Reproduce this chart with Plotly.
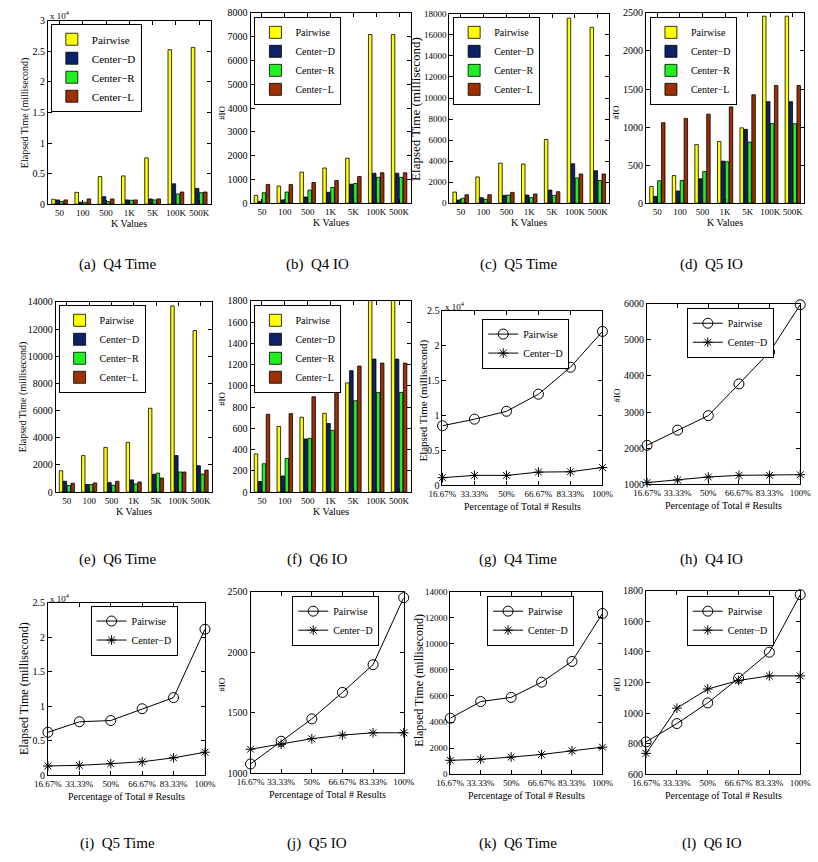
import plotly.graph_objects as go

W, H = 818, 862
FONT = "Liberation Serif"

# ---------------- data ----------------
K_LABELS = ["50", "100", "500", "1K", "5K", "100K", "500K"]
PCT_VALUES = [16.67, 33.33, 50, 66.67, 83.33, 100]
PCT_LABELS = ["16.67%", "33.33%", "50%", "66.67%", "83.33%", "100%"]
BAR_NAMES = ["Pairwise", "Center\u2212D", "Center\u2212R", "Center\u2212L"]
LINE_NAMES = ["Pairwise", "Center\u2212D"]

# (a) Q4 Time
q4_time_pairwise = [806, 1935, 4516, 4624, 7580, 25270, 25645]
q4_time_center_d = [700, 320, 1237, 700, 860, 3333, 2580]
q4_time_center_r = [430, 320, 430, 645, 700, 1667, 1880]
q4_time_center_l = [700, 860, 860, 700, 860, 1990, 1990]
# (b) Q4 IO
q4_io_pairwise = [330, 720, 1310, 1480, 1890, 7090, 7090]
q4_io_center_d = [80, 140, 260, 460, 800, 1260, 1260]
q4_io_center_r = [440, 470, 550, 660, 830, 1090, 1090]
q4_io_center_l = [790, 790, 870, 950, 1120, 1280, 1280]
# (c) Q5 Time
q5_time_pairwise = [1060, 2500, 3810, 3720, 6060, 17590, 16720]
q5_time_center_d = [310, 530, 750, 780, 1250, 3750, 3090]
q5_time_center_r = [470, 375, 780, 530, 750, 2400, 2150]
q5_time_center_l = [810, 810, 1030, 875, 1090, 2780, 2780]
# (d) Q5 IO
q5_io_pairwise = [220, 363, 770, 812, 990, 2457, 2457]
q5_io_center_d = [90, 160, 320, 553, 970, 1334, 1334]
q5_io_center_r = [295, 300, 415, 544, 803, 1045, 1045]
q5_io_center_l = [1058, 1114, 1170, 1265, 1425, 1546, 1546]
# (e) Q6 Time
q6_time_pairwise = [1575, 2690, 3290, 3660, 6170, 13700, 11890]
q6_time_center_d = [800, 560, 700, 900, 1310, 2690, 1940]
q6_time_center_r = [485, 560, 510, 605, 1400, 1480, 1330]
q6_time_center_l = [655, 680, 800, 750, 1040, 1480, 1620]
# (f) Q6 IO (Pairwise at 100K/500K exceeds the axis and is clipped)
q6_io_pairwise = [360, 618, 705, 742, 1028, 2450, 2450]
q6_io_center_d = [99, 152, 500, 646, 1143, 1252, 1252]
q6_io_center_r = [267, 317, 506, 581, 860, 938, 938]
q6_io_center_l = [733, 739, 897, 960, 1186, 1214, 1214]

# (g) Q4 Time vs percentage
g_pairwise = [8520, 9460, 10590, 13040, 16900, 22030]
g_center_d = [1080, 1410, 1410, 1880, 1930, 2540]
# (h) Q4 IO
h_pairwise = [2079, 2500, 2901, 3779, 4665, 5973]
h_center_d = [1046, 1119, 1201, 1247, 1247, 1265]
# (i) Q5 Time
i_pairwise = [6210, 7730, 7910, 9620, 11230, 21140]
i_center_d = [1330, 1420, 1660, 1940, 2510, 3320]
# (j) Q5 IO
j_pairwise = [1076, 1264, 1449, 1668, 1897, 2451]
j_center_d = [1198, 1239, 1285, 1315, 1334, 1334]
# (k) Q6 Time
k_pairwise = [4290, 5570, 5890, 7060, 8650, 12330]
k_center_d = [1060, 1140, 1310, 1510, 1790, 2070]
# (l) Q6 IO
l_pairwise = [811, 931, 1066, 1228, 1398, 1774]
l_center_d = [736, 1032, 1157, 1213, 1243, 1243]

CAPTIONS = ["(a)  Q4 Time", "(b)  Q4 IO", "(c)  Q5 Time", "(d)  Q5 IO",
            "(e)  Q6 Time", "(f)  Q6 IO", "(g)  Q4 Time", "(h)  Q4 IO",
            "(i)  Q5 Time", "(j)  Q5 IO", "(k)  Q6 Time", "(l)  Q6 IO"]

BAR_COLORS = ["#FFFF00", "#0D2266", "#22F022", "#9C3000"]

# ---------------- layout helpers ----------------
def px(x):
    return x / W

def py(y):
    return 1 - y / H

# panel boxes in pixels: (left, top, right, bottom)
BOXES = [
    (35, 15, 203, 201), (244, 7, 409, 200), (449, 8, 614, 200), (652, 7, 815, 200),
    (43, 300, 204, 493), (244, 299, 409, 493), (442, 309, 607, 486), (653, 302, 811, 485),
    (35, 605, 197, 780), (244, 594, 402, 778), (450, 594, 607, 779), (652, 593, 811, 779),
]

fig = go.Figure()
layout = dict(
    width=W, height=H, margin=dict(l=0, r=0, t=0, b=0),
    paper_bgcolor="white", plot_bgcolor="white",
    barmode="group", bargap=0.3, bargroupgap=0.12,
    font=dict(family=FONT, size=10, color="black"),
    showlegend=True,
)
annotations = []

def axis_common(tsize=10):
    return dict(showline=True, linecolor="black", linewidth=1, mirror="allticks",
                ticks="inside", ticklen=4, tickcolor="black", showgrid=False,
                zeroline=False, tickangle=0,
                tickfont=dict(family=FONT, size=tsize, color="black"))

def setup_axes(idx, yrange, ydtick=None, ytickvals=None, yticktext=None, kind="bar", ytsize=10):
    l, t, r, b = BOXES[idx]
    n = idx + 1
    xa = axis_common(9)
    xa.update(domain=[px(l), px(r)], anchor="y%d" % n if n > 1 else "y")
    if kind == "bar":
        xa.update(type="category", range=[-0.5, 6.5], categoryorder="array",
                  categoryarray=K_LABELS)
    else:
        xa.update(range=[PCT_VALUES[0], PCT_VALUES[-1]], tickvals=PCT_VALUES,
                  ticktext=PCT_LABELS)
    ya = axis_common(ytsize)
    ya.update(domain=[py(b), py(t)], anchor="x%d" % n if n > 1 else "x", range=yrange,
              tickformat="d", exponentformat="none")
    if ytickvals is not None:
        ya.update(tickvals=ytickvals, ticktext=yticktext)
    else:
        ya.update(dtick=ydtick, tick0=yrange[0])
    key = "" if n == 1 else str(n)
    layout["xaxis" + key] = xa
    layout["yaxis" + key] = ya

def legend_at(idx, x, y, size):
    key = "legend" if idx == 0 else "legend%d" % (idx + 1)
    layout[key] = dict(x=px(x), y=py(y), xanchor="left", yanchor="top",
                       bgcolor="white", bordercolor="black", borderwidth=1,
                       font=dict(family=FONT, size=size, color="black"),
                       tracegroupgap=0)
    return key

def add_bars(idx, series, legend_pos, lsize=10):
    n = idx + 1
    lg = legend_at(idx, legend_pos[0], legend_pos[1], lsize)
    for name, vals, col in zip(BAR_NAMES, series, BAR_COLORS):
        fig.add_trace(go.Bar(
            x=K_LABELS, y=vals, name=name, marker=dict(color=col, line=dict(color="black", width=0.8)),
            xaxis="x" if n == 1 else "x%d" % n, yaxis="y" if n == 1 else "y%d" % n,
            legend=lg, offsetgroup=name))

def add_lines(idx, pair, cd, legend_pos, lsize=10):
    n = idx + 1
    lg = legend_at(idx, legend_pos[0], legend_pos[1], lsize)
    fig.add_trace(go.Scatter(
        x=PCT_VALUES, y=pair, name=LINE_NAMES[0], mode="lines+markers",
        line=dict(color="black", width=1),
        marker=dict(symbol="circle-open", size=10, color="black", line=dict(width=1)),
        xaxis="x%d" % n, yaxis="y%d" % n, legend=lg, cliponaxis=False))
    fig.add_trace(go.Scatter(
        x=PCT_VALUES, y=cd, name=LINE_NAMES[1], mode="lines+markers",
        line=dict(color="black", width=1),
        marker=dict(symbol="asterisk-open", size=8, color="black", line=dict(width=1)),
        xaxis="x%d" % n, yaxis="y%d" % n, legend=lg, cliponaxis=False))

def ann(text, x, y, size, angle=0, xanchor="center", yanchor="middle"):
    annotations.append(dict(text=text, x=px(x), y=py(y), xref="paper", yref="paper",
                            showarrow=False, textangle=angle, xanchor=xanchor,
                            yanchor=yanchor, font=dict(family=FONT, size=size, color="black")))

# ---------------- panels ----------------
e4_vals = [0, 5000, 10000, 15000, 20000, 25000, 30000]
e4_text = ["0", "0.5", "1", "1.5", "2", "2.5", "3"]

setup_axes(0, [0, 30000], ytickvals=e4_vals, yticktext=e4_text)
add_bars(0, [q4_time_pairwise, q4_time_center_d, q4_time_center_r, q4_time_center_l], (38, 18), 11)
setup_axes(1, [0, 8000], 1000)
add_bars(1, [q4_io_pairwise, q4_io_center_d, q4_io_center_r, q4_io_center_l], (248, 11))
setup_axes(2, [0, 18000], 2000, ytsize=9)
add_bars(2, [q5_time_pairwise, q5_time_center_d, q5_time_center_r, q5_time_center_l], (453, 11))
setup_axes(3, [0, 2500], 500)
add_bars(3, [q5_io_pairwise, q5_io_center_d, q5_io_center_r, q5_io_center_l], (656, 11))
setup_axes(4, [0, 14000], 2000)
add_bars(4, [q6_time_pairwise, q6_time_center_d, q6_time_center_r, q6_time_center_l], (46, 303))
setup_axes(5, [0, 1800], 200)
add_bars(5, [q6_io_pairwise, q6_io_center_d, q6_io_center_r, q6_io_center_l], (248, 303))

setup_axes(6, [0, 25000], ytickvals=e4_vals[:6], yticktext=e4_text[:6], kind="line")
add_lines(6, g_pairwise, g_center_d, (483, 317))
setup_axes(7, [1000, 6000], 1000, kind="line")
add_lines(7, h_pairwise, h_center_d, (694, 306))
setup_axes(8, [0, 25000], ytickvals=e4_vals[:6], yticktext=e4_text[:6], kind="line")
add_lines(8, i_pairwise, i_center_d, (79, 608))
setup_axes(9, [1000, 2500], 500, kind="line")
add_lines(9, j_pairwise, j_center_d, (287, 598))
setup_axes(10, [0, 14000], 2000, kind="line", ytsize=9)
add_lines(10, k_pairwise, k_center_d, (488, 598))
setup_axes(11, [600, 1800], 200, kind="line")
add_lines(11, l_pairwise, l_center_d, (694, 598))

# axis titles
ET = "Elapsed Time (millisecond)"
ylab = [(ET, 12, 108, 10), ("#IO", 215, 108, 9), (ET, 414, 104, 13), ("#IO", 622, 108, 9),
        (ET, 10, 396, 10), ("#IO", 215, 398, 9), (ET, 422, 400, 11), ("#IO", 622, 395, 9),
        (ET, 11, 692, 12), ("#IO", 215, 688, 9), (ET, 418, 684, 12), ("#IO", 622, 688, 9)]
for text, x, y, s in ylab:
    ann(text, x, y, s, angle=-90)

for i in range(6):
    l, t, r, b = BOXES[i]
    ann("K Values", (l + r) / 2, b + 20, 10)
for i in range(6, 12):
    l, t, r, b = BOXES[i]
    ann("Percentage of Total # Results", (l + r) / 2, b + 22, 10)

# exponent labels
for (x, y) in [(35, 9), (443, 304), (35, 600)]:
    ann("x 10<sup>4</sup>", x, y, 9, xanchor="left")

# captions
cap_x = [107, 313, 520, 720]
cap_y = [262, 561, 849]
for i, c in enumerate(CAPTIONS):
    ann(c, cap_x[i % 4], cap_y[i // 4], 15)

layout["annotations"] = annotations
fig.update_layout(**layout)
fig.write_html("out.html")
